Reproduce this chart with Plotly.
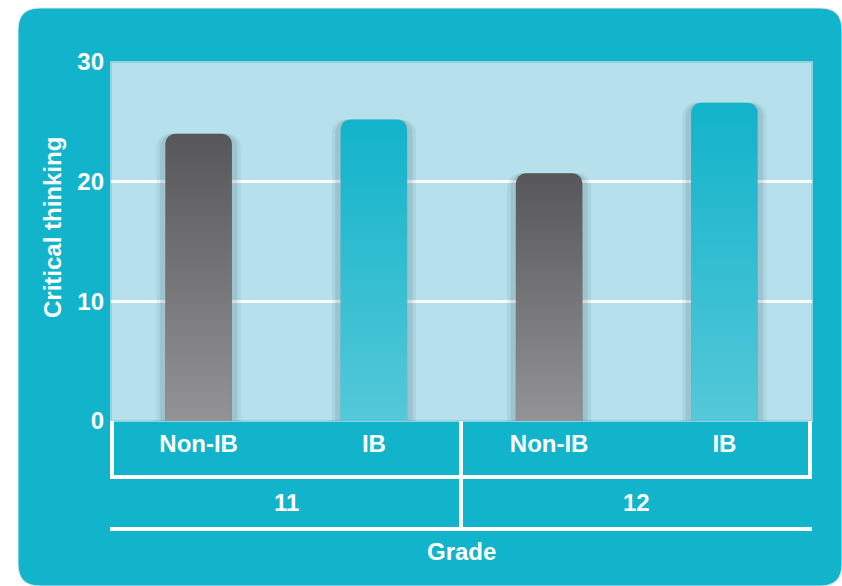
import base64
import plotly.graph_objects as go

# data
grades = ['11', '11', '12', '12']
groups = ['Non-IB', 'IB', 'Non-IB', 'IB']
scores = [24.0, 25.2, 20.7, 26.6]
y_ticks = [0, 10, 20, 30]

teal = '#11b4cb'
pale = '#b6e1ec'
bar_colors = {'Non-IB': '#57575a', 'IB': '#12b3ca'}
fade = {'Non-IB': 0.36, 'IB': 0.28}
font = dict(family='Liberation Sans', size=24, color='white', weight='bold')

pos = list(range(len(scores)))
bar_w = 0.38

fig = go.Figure()

# soft shadow behind the bars
for w, a in [(0.48, 0.10), (0.44, 0.14)]:
    fig.add_trace(go.Bar(
        x=pos, y=scores, width=w,
        marker=dict(color=f'rgba(70,95,105,{a})', cornerradius=14, line=dict(width=0)),
        hoverinfo='skip', showlegend=False,
    ))

fig.add_trace(go.Bar(
    x=pos, y=scores, width=bar_w,
    marker=dict(color=[bar_colors[g] for g in groups], cornerradius=10, line=dict(width=0)),
    customdata=list(zip(grades, groups)),
    hovertemplate='Grade %{customdata[0]}, %{customdata[1]}: %{y}<extra></extra>',
    showlegend=False,
))


def grad_svg(alpha):
    svg = ('<svg xmlns="http://www.w3.org/2000/svg" width="10" height="100" '
           'preserveAspectRatio="none" viewBox="0 0 10 100">'
           '<defs><linearGradient id="g" x1="0" y1="0" x2="0" y2="1">'
           '<stop offset="0" stop-color="white" stop-opacity="0"/>'
           f'<stop offset="1" stop-color="white" stop-opacity="{alpha}"/>'
           '</linearGradient></defs><rect width="10" height="100" fill="url(#g)"/></svg>')
    return 'data:image/svg+xml;base64,' + base64.b64encode(svg.encode()).decode()


# light fade towards the bottom of each bar
images = []
for p, v, g in zip(pos, scores, groups):
    images.append(dict(
        source=grad_svg(fade[g]), xref='x', yref='y',
        x=p - bar_w / 2, y=v, sizex=bar_w, sizey=v,
        sizing='stretch', layer='above', xanchor='left', yanchor='top',
    ))

# plot area in px: x 111..812, y 62..421
W, H = 701, 359


def px(x):
    return (x - 111) / W


def py(y):
    return (421 - y) / H


r = 22
x0, x1, y0, y1 = px(18), px(842), py(8), py(586)
rx, ry = r / W, r / H
card = (f'M {x0 + rx},{y0} L {x1 - rx},{y0} Q {x1},{y0} {x1},{y0 - ry} '
        f'L {x1},{y1 + ry} Q {x1},{y1} {x1 - rx},{y1} '
        f'L {x0 + rx},{y1} Q {x0},{y1} {x0},{y1 + ry} '
        f'L {x0},{y0 - ry} Q {x0},{y0} {x0 + rx},{y0} Z')

line = dict(color='white', width=4)
shapes = [
    dict(type='path', path=card, xref='paper', yref='paper',
         fillcolor=teal, line=dict(color='#e6e6e6', width=1), layer='below'),
    dict(type='rect', xref='paper', yref='paper', x0=0, x1=1, y0=0, y1=1,
         fillcolor=pale, line=dict(color='#8fd3e1', width=2), layer='below'),
    # category table lines
    dict(type='line', xref='paper', yref='paper', x0=px(112), x1=px(112), y0=0, y1=py(478), line=line),
    dict(type='line', xref='paper', yref='paper', x0=px(810), x1=px(810), y0=0, y1=py(478), line=line),
    dict(type='line', xref='paper', yref='paper', x0=px(461), x1=px(461), y0=0, y1=py(530), line=line),
    dict(type='line', xref='paper', yref='paper', x0=px(110), x1=px(812), y0=py(477), y1=py(477), line=line),
    dict(type='line', xref='paper', yref='paper', x0=px(110), x1=px(812), y0=py(529), y1=py(529), line=line),
]

annotations = []
for g in sorted(set(grades)):
    idx = [p for p, gg in zip(pos, grades) if gg == g]
    annotations.append(dict(
        x=sum(idx) / len(idx), y=py(502), xref='x', yref='paper',
        xanchor='center', yanchor='middle',
        text=g, showarrow=False, font=font,
    ))
annotations.append(dict(x=px(461), y=py(551), xref='paper', yref='paper',
                        xanchor='center', yanchor='middle',
                        text='Grade', showarrow=False, font=font))
annotations.append(dict(x=px(52), y=py(228), xref='paper', yref='paper',
                        xanchor='center', yanchor='middle',
                        text='Critical thinking', textangle=-90, showarrow=False, font=font))

fig.update_layout(
    width=842, height=586,
    margin=dict(l=111, r=30, t=62, b=165),
    paper_bgcolor='white',
    plot_bgcolor='rgba(0,0,0,0)',
    barmode='overlay',
    font=font,
    shapes=shapes,
    images=images,
    annotations=annotations,
    xaxis=dict(
        range=[-0.5, len(scores) - 0.5],
        tickvals=pos, ticktext=groups,
        showgrid=False, zeroline=False, showline=False,
        ticks='', ticklabelstandoff=6, tickfont=font,
        fixedrange=True,
    ),
    yaxis=dict(
        range=[0, 30], tickvals=y_ticks,
        showgrid=True, gridcolor='white', gridwidth=3,
        zeroline=False, showline=False, ticks='',
        ticklabelstandoff=6, tickfont=font,
        fixedrange=True,
    ),
)

fig.write_html('out.html', config={'displayModeBar': False},
               post_script="document.body.style.margin='0';")
